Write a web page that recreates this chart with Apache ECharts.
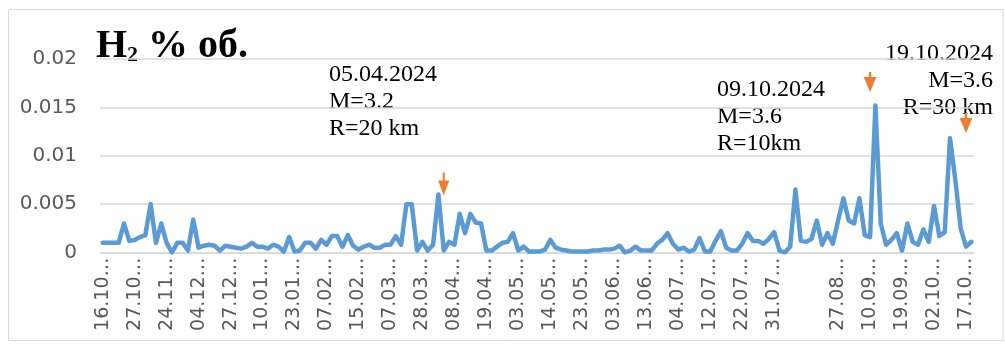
<!DOCTYPE html>
<html>
<head>
<meta charset="utf-8">
<script src="https://cdn.jsdelivr.net/npm/echarts@6/dist/echarts.min.js"></script>
<style>
  html, body { margin: 0; padding: 0; background: #fff; }
  #chart { width: 1005px; height: 351px; }
</style>
</head>
<body>
<div id="chart"></div>
<script>
// H2 concentration, % vol., one value per measurement (Oct 2023 - Oct 2024)
const h2 = [
  0.001, 0.001, 0.001, 0.001, 0.003, 0.0012, 0.0013, 0.0016, 0.0018, 0.005,
  0.001, 0.003, 0.001, 0, 0.001, 0.001, 0.0002, 0.0034, 0.0005, 0.0007,
  0.0008, 0.0007, 0.0002, 0.0007, 0.0006, 0.0005, 0.0004, 0.0006, 0.001, 0.0006,
  0.0006, 0.0004, 0.0008, 0.0006, 0.0001, 0.0016, 0.0001, 0.0002, 0.001, 0.001,
  0.0004, 0.0013, 0.0008, 0.0017, 0.0017, 0.0006, 0.0018, 0.0007, 0.0003, 0.0006,
  0.0008, 0.0005, 0.0005, 0.0008, 0.0008, 0.0017, 0.0008, 0.005, 0.005, 0.0002,
  0.0011, 0.0002, 0.0008, 0.006, 0.0002, 0.0011, 0.0008, 0.004, 0.002, 0.004,
  0.0031, 0.003, 0.0002, 0.0002, 0.0006, 0.001, 0.0011, 0.002, 0.0002, 0.0006,
  0.0001, 0.0001, 0.0001, 0.0003, 0.0013, 0.0005, 0.0003, 0.0002, 0.0001, 0.0001,
  0.0001, 0.0001, 0.0002, 0.0002, 0.0003, 0.0003, 0.0004, 0.0007, 0, 0.0002,
  0.0006, 0.0002, 0.0002, 0.0002, 0.0009, 0.0013, 0.002, 0.0009, 0.0003, 0.0005,
  0.0001, 0.0003, 0.0015, 0.0001, 0.0001, 0.0012, 0.0022, 0.0005, 0.0002, 0.0002,
  0.0009, 0.002, 0.0012, 0.0012, 0.0009, 0.0014, 0.0021, 0.0002, 0, 0.0006,
  0.0065, 0.0012, 0.0011, 0.0014, 0.0033, 0.0008, 0.002, 0.0009, 0.0033, 0.0056,
  0.0033, 0.003, 0.0056, 0.0018, 0.0016, 0.0152, 0.003, 0.0008, 0.0013, 0.002,
  0.0002, 0.003, 0.0011, 0.0008, 0.0024, 0.0011, 0.0048, 0.0017, 0.0021, 0.0118,
  0.0075, 0.0025, 0.0006, 0.0011
];

// Dates shown under every sixth measurement (one slot left blank)
const tickDates = [
  '16.10', '27.10', '24.11', '04.12', '27.12', '10.01', '23.01', '07.02',
  '15.02', '07.03', '28.03', '08.04', '19.04', '03.05', '14.05', '23.05',
  '03.06', '13.06', '04.07', '12.07', '22.07', '31.07', '', '27.08',
  '10.09', '19.09', '02.10', '17.10'
];
const labelStep = 6;

// Y axis ticks
const yTicks = { min: 0, max: 0.02, step: 0.005 };

// Earthquake notes and the arrows marking them: [measurement index, value at arrow tip]
const quakeNotes = [
  ['05.04.2024', 'M=3.2', 'R=20 km'],
  ['09.10.2024', 'M=3.6', 'R=10km'],
  ['19.10.2024', 'M=3.6', 'R=30 km']
];
const quakeArrows = [
  [64, 0.0059],
  [144, 0.0166],
  [162, 0.01235]
];
const arrowShafts = [8, 5, 5];

const categories = h2.map((_, i) => String(i));

function arrowPath(shaft) {
  const h = shaft + 15;
  return 'path://M6.5,0 L9.5,0 L9.5,' + shaft + ' L16,' + shaft + ' L8,' + h +
         ' L0,' + shaft + ' L6.5,' + shaft + ' Z';
}

const chart = echarts.init(document.getElementById('chart'), null, { renderer: 'canvas' });

const axisFont = 'DejaVu Sans';
const noteFont = '"Liberation Serif", "Times New Roman", serif';

const noteStyle = (lines, x, y, align) => ({
  type: 'text',
  silent: true,
  style: {
    x: x, y: y,
    text: lines.join('\n'),
    font: '24px ' + noteFont,
    lineHeight: 27,
    fill: '#000',
    align: align,
    verticalAlign: 'top'
  }
});

chart.setOption({
  animation: false,
  backgroundColor: '#fff',
  grid: { left: 100, right: 31, top: 59, bottom: 98.5, containLabel: false },
  xAxis: {
    type: 'category',
    data: categories,
    boundaryGap: true,
    axisTick: { show: false },
    axisLine: { show: true, lineStyle: { color: '#d9d9d9', width: 1.5 } },
    axisLabel: {
      interval: 0,
      rotate: 90,
      margin: 5,
      fontFamily: axisFont,
      fontSize: 19,
      color: '#595959',
      formatter: (value, index) => {
        if (index % labelStep !== 0) return '';
        const d = tickDates[index / labelStep];
        return d ? d + '…' : '';
      }
    },
    splitLine: { show: false }
  },
  yAxis: {
    type: 'value',
    min: yTicks.min,
    max: yTicks.max,
    interval: yTicks.step,
    axisLine: { show: false },
    axisTick: { show: false },
    axisLabel: {
      margin: 23,
      fontFamily: axisFont,
      fontSize: 20,
      color: '#595959',
      formatter: v => String(+v.toFixed(4))
    },
    splitLine: { lineStyle: { color: '#d9d9d9', width: 1.5 } }
  },
  series: [{
    type: 'line',
    data: h2,
    showSymbol: false,
    symbol: 'none',
    lineStyle: { color: '#5b9bd5', width: 4.5, cap: 'round', join: 'round' },
    silent: true,
    markPoint: {
      silent: true,
      label: { show: false },
      itemStyle: { color: '#ed7d31' },
      data: quakeArrows.map((a, k) => ({
        coord: [a[0], a[1]],
        symbol: arrowPath(arrowShafts[k]),
        symbolSize: [16, arrowShafts[k] + 15],
        symbolKeepAspect: true,
        symbolOffset: [0, -(arrowShafts[k] + 15) / 2]
      }))
    }
  }],
  graphic: [
    {
      type: 'rect',
      silent: true,
      shape: { x: 8.5, y: 9.5, width: 994.5, height: 331 },
      style: { fill: 'none', stroke: '#d9d9d9', lineWidth: 1 }
    },
    {
      type: 'text',
      silent: true,
      style: {
        x: 96, y: 26.5,
        text: '{a|H}{s|2}{a| % об.}',
        fill: '#000',
        verticalAlign: 'top',
        rich: {
          a: { font: 'bold 40px ' + noteFont, lineHeight: 40, verticalAlign: 'bottom' },
          s: { font: 'bold 22px ' + noteFont, lineHeight: 28, verticalAlign: 'bottom' }
        }
      }
    },
    noteStyle(quakeNotes[0], 329, 61.4, 'left'),
    noteStyle(quakeNotes[1], 717, 76.4, 'left'),
    noteStyle(quakeNotes[2], 993, 40.4, 'right')
  ]
});
</script>
</body>
</html>
